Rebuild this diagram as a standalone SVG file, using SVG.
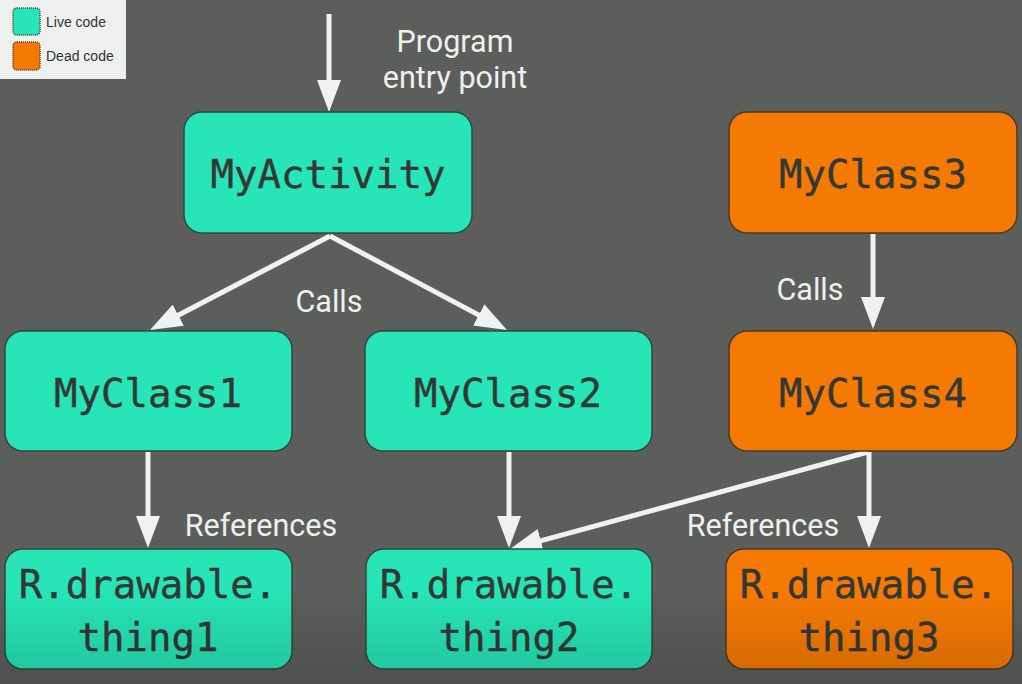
<svg xmlns="http://www.w3.org/2000/svg" width="1022" height="684" viewBox="0 0 1022 684">
  <defs>
    <style>
      .live { fill: #27e5b6; stroke: #2f4a40; stroke-width: 1.5; }
      .dead { fill: #f57a03; stroke: #4a3a2a; stroke-width: 1.5; }
      .code { font-family: "DejaVu Sans Mono", "Liberation Mono", monospace; font-size: 39px; fill: #333836; text-anchor: middle; stroke: #333836; stroke-width: 0.4; }
      .lbl { font-family: Roboto, "Liberation Sans", sans-serif; font-size: 30.5px; fill: #eef0ed; text-anchor: middle; }
      .leg { font-family: "Liberation Sans", Arial, sans-serif; font-size: 14px; fill: #333; }
      .conn { stroke: #f0f2ef; stroke-width: 5; fill: none; marker-end: url(#ah); }
    </style>
    <marker id="ah" viewBox="0 0 32 24" refX="12" refY="12" markerWidth="32" markerHeight="24" markerUnits="userSpaceOnUse" orient="auto">
      <path d="M0,0 L32,12 L0,24 Z" fill="#f0f2ef"/>
    </marker>
    <linearGradient id="shade" x1="0" y1="0" x2="0" y2="1">
      <stop offset="0" stop-color="#000" stop-opacity="0"/>
      <stop offset="1" stop-color="#000" stop-opacity="0.15"/>
    </linearGradient>
  </defs>

  <rect x="0" y="0" width="1022" height="684" fill="#5b5e5b"/>

  <g id="legend">
    <rect x="0" y="0" width="126" height="79" fill="#eef0ee"/>
    <rect x="13" y="8" width="27" height="27" rx="4" class="live" stroke-dasharray="1 1"/>
    <text x="46" y="27" class="leg">Live code</text>
    <rect x="13" y="42" width="27" height="28" rx="4" class="dead" stroke-dasharray="1 1"/>
    <text x="46" y="61" class="leg">Dead code</text>
  </g>

  <g id="connectors">
    <path class="conn" d="M329,14 L329,92"/>
    <path class="conn" d="M330,236 L167.7,320.7"/>
    <path class="conn" d="M330,236 L489.3,320.6"/>
    <path class="conn" d="M873,234 L873,309"/>
    <path class="conn" d="M148,452 L148,528"/>
    <path class="conn" d="M509,452 L509,528"/>
    <path class="conn" d="M868,452 L529.3,543.8"/>
    <path class="conn" d="M869,452 L869,528"/>
    <text x="455" y="52" class="lbl">Program</text>
    <text x="455" y="88" class="lbl">entry point</text>
    <text x="329" y="312" class="lbl">Calls</text>
    <text x="810" y="300" class="lbl">Calls</text>
    <text x="261" y="536" class="lbl">References</text>
    <text x="763" y="536" class="lbl">References</text>
  </g>

  <g id="MyActivity">
    <rect x="184" y="112" width="288" height="121" rx="18" class="live"/>
    <text x="328" y="188" class="code">MyActivity</text>
  </g>
  <g id="MyClass3">
    <rect x="729" y="112" width="288" height="121" rx="18" class="dead"/>
    <text x="873" y="188" class="code">MyClass3</text>
  </g>
  <g id="MyClass1">
    <rect x="5" y="331" width="287" height="120" rx="18" class="live"/>
    <text x="148" y="407" class="code">MyClass1</text>
  </g>
  <g id="MyClass2">
    <rect x="365" y="331" width="287" height="120" rx="18" class="live"/>
    <text x="508" y="407" class="code">MyClass2</text>
  </g>
  <g id="MyClass4">
    <rect x="729" y="331" width="288" height="120" rx="18" class="dead"/>
    <text x="873" y="407" class="code">MyClass4</text>
  </g>
  <g id="thing1">
    <rect x="5" y="549" width="287" height="120" rx="18" class="live"/>
    <text x="148" y="598" class="code">R.drawable.</text>
    <text x="148" y="651" class="code">thing1</text>
  </g>
  <g id="thing2">
    <rect x="366" y="549" width="286" height="120" rx="18" class="live"/>
    <text x="509" y="598" class="code">R.drawable.</text>
    <text x="509" y="651" class="code">thing2</text>
  </g>
  <g id="thing3">
    <rect x="726" y="549" width="287" height="120" rx="18" class="dead"/>
    <text x="869" y="598" class="code">R.drawable.</text>
    <text x="869" y="651" class="code">thing3</text>
  </g>

  <rect x="0" y="590" width="1022" height="94" fill="url(#shade)" pointer-events="none"/>
</svg>
